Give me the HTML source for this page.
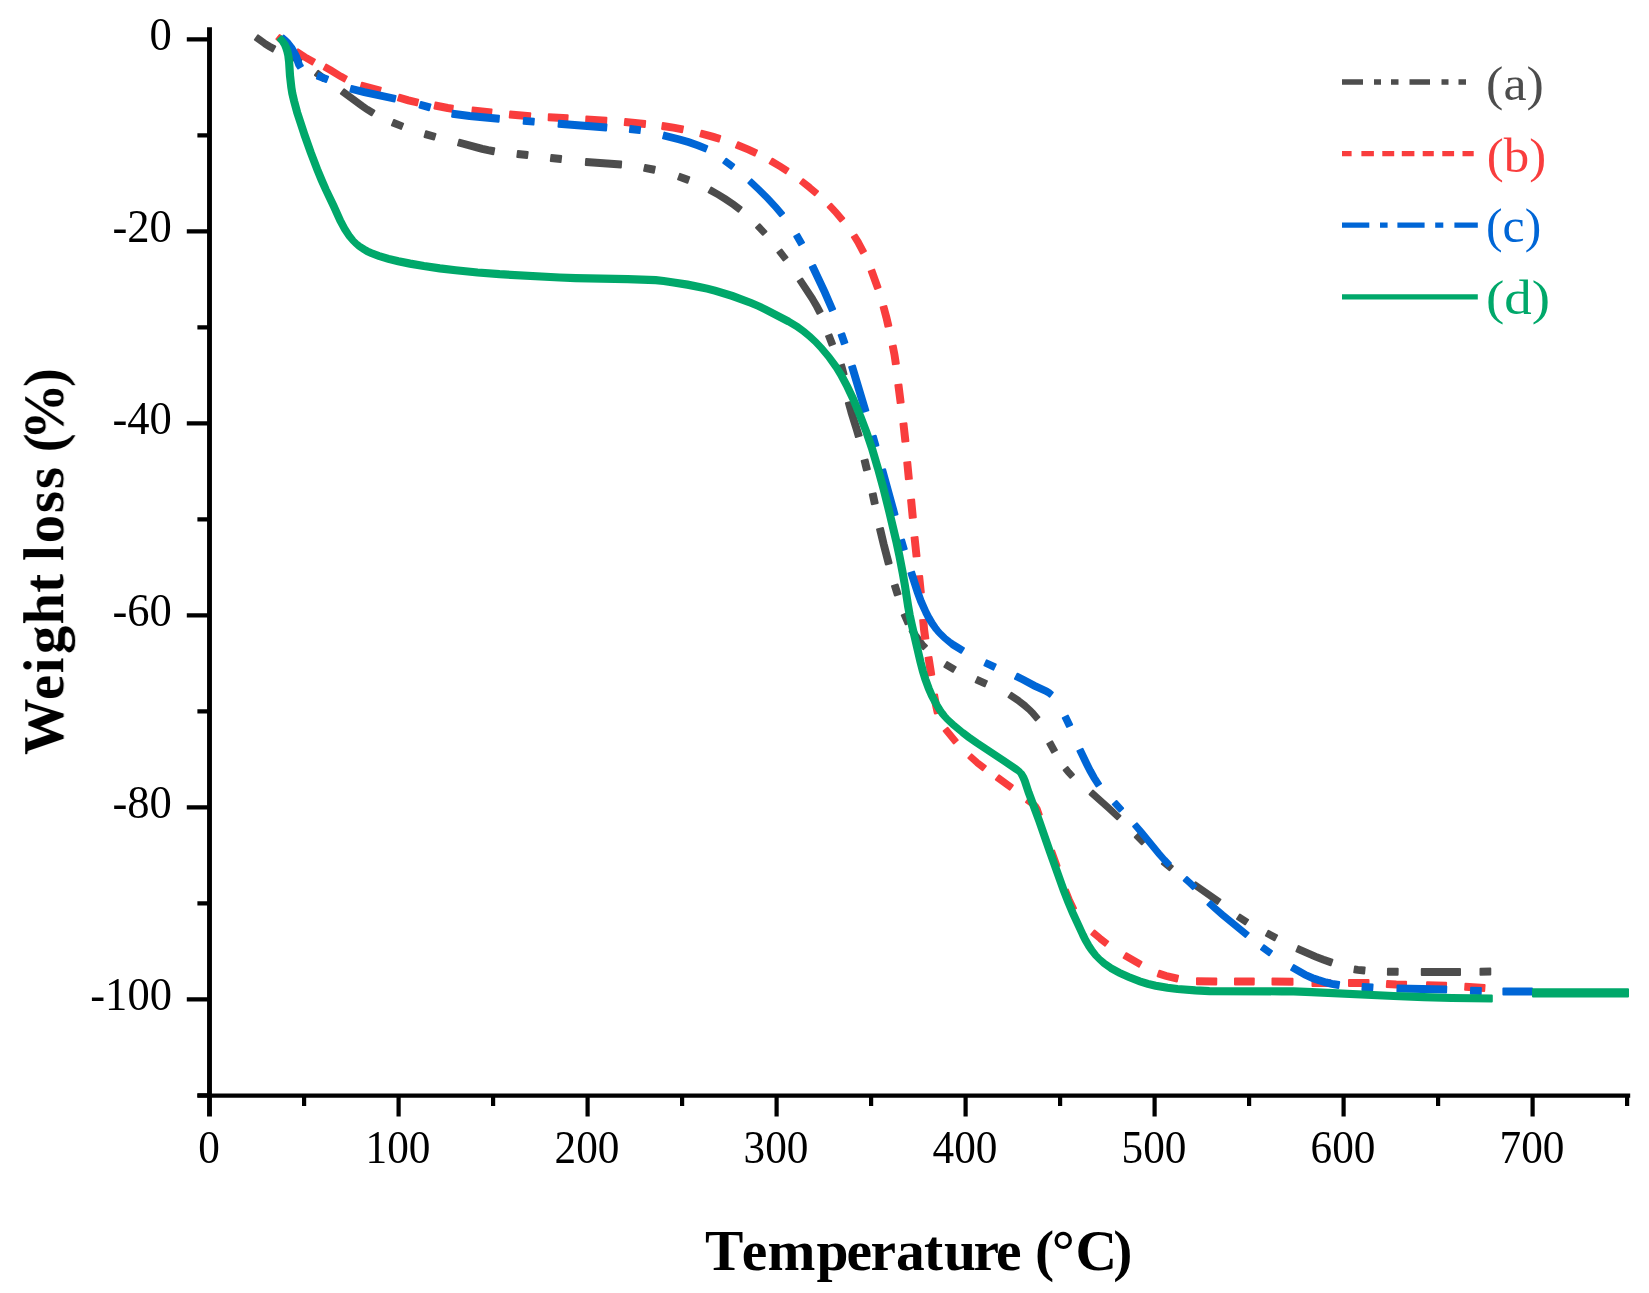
<!DOCTYPE html>
<html lang="en"><head><meta charset="utf-8"><title>TGA weight loss</title>
<style>
html,body{margin:0;padding:0;background:#fff}
body{width:1649px;height:1293px;overflow:hidden}
svg{display:block}
text{font-family:"Liberation Serif","DejaVu Serif",serif}
.tk text{font-size:46px;fill:#000}
.cv path{stroke-width:2;stroke-linejoin:round}
.lg path{fill:none;stroke-width:5.3}
.lg text{font-size:48.5px}
.ax{font-weight:bold;fill:#000}
</style></head><body>
<svg width="1649" height="1293" viewBox="0 0 1649 1293">
<rect width="1649" height="1293" fill="#fff"/>
<defs><filter id="soft" x="-2%" y="-2%" width="104%" height="104%"><feGaussianBlur stdDeviation="0.55"/></filter><filter id="soft2" x="-2%" y="-2%" width="104%" height="104%"><feGaussianBlur stdDeviation="0.4"/></filter></defs>
<g class="cv" filter="url(#soft)">
<path d="M258.0 35.4 266.3 41.4 271.3 44.4 275.2 46.5 272.5 51.4 268.5 49.1 263.3 45.8 254.9 39.8Z M293.3 53.9 298.6 56.5 302.1 58.7 299.3 63.3 296.0 61.4 290.8 59.0Z M318.1 70.9 326.0 76.7 322.9 81.0 315.0 75.2Z M344.1 89.4 363.8 103.9 368.6 107.2 374.4 110.7 371.6 115.3 365.7 111.7 360.6 108.2 340.9 93.6Z M394.0 120.0 403.1 123.6 401.0 128.9 391.9 125.3Z M426.1 131.3 435.5 134.0 433.9 139.6 424.5 137.0Z M459.5 139.7 483.0 146.0 488.7 147.3 494.3 148.3 493.2 154.2 487.5 153.1 481.5 151.7 458.0 145.3Z M518.0 151.0 527.7 152.1 527.0 158.0 517.3 156.9Z M551.5 155.0 561.2 156.1 560.5 162.1 550.8 160.9Z M586.2 159.0 621.2 161.5 620.8 167.5 585.8 165.0Z M645.3 164.9 654.9 166.8 653.7 172.7 644.1 170.8Z M680.1 173.9 689.3 177.2 687.4 182.7 678.1 179.4Z M711.4 187.6 719.6 192.3 726.6 196.6 735.0 202.4 741.6 207.4 738.4 211.6 731.9 206.7 723.6 201.1 716.9 197.0 708.6 192.4Z M759.7 224.3 766.4 231.4 762.8 234.8 756.1 227.7Z M781.6 249.5 787.5 257.3 783.4 260.5 777.4 252.7Z M802.2 278.5 815.0 297.9 819.2 304.9 822.5 311.2 817.5 313.8 814.3 307.6 810.4 300.8 797.8 281.5Z M831.4 334.4 835.0 343.5 829.7 345.6 826.1 336.5Z M843.9 364.4 845.1 368.5 846.5 374.1 840.8 375.5 839.5 370.0 838.3 366.2Z M851.6 401.7 854.2 411.5 859.6 428.7 861.6 435.4 855.9 437.1 854.0 430.4 848.6 413.1 845.9 403.3Z M867.5 459.5 869.8 469.1 864.0 470.5 861.7 460.9Z M875.6 493.3 877.7 502.9 871.9 504.2 869.8 494.6Z M882.9 528.1 886.6 543.8 891.6 563.0 885.9 564.5 880.9 545.3 877.1 529.4Z M897.6 584.5 900.5 593.8 894.9 595.5 892.0 586.2Z M907.0 613.1 910.9 622.1 905.7 624.3 901.8 615.3Z M914.3 628.6 917.4 633.5 920.8 638.4 924.4 643.1 926.9 645.8 923.1 649.2 920.5 646.3 916.6 641.6 912.9 636.5 909.7 631.4Z M947.2 662.0 955.7 667.1 952.9 671.8 944.4 666.8Z M978.0 677.1 986.9 681.2 984.6 686.3 975.6 682.3Z M1011.5 692.8 1020.2 698.7 1026.8 703.9 1031.4 708.2 1034.4 711.2 1039.4 717.1 1035.6 720.4 1030.7 714.6 1028.0 711.8 1023.5 707.9 1017.1 703.0 1008.5 697.2Z M1052.1 741.3 1056.9 749.9 1052.0 752.6 1047.3 744.0Z M1067.7 767.1 1070.6 770.8 1073.9 774.4 1070.3 777.8 1066.8 774.1 1063.7 770.3Z M1092.9 790.6 1110.7 806.6 1120.4 815.7 1117.1 819.3 1107.4 810.3 1089.6 794.4Z M1138.3 833.8 1145.2 840.7 1141.7 844.2 1134.8 837.3Z M1165.2 860.0 1172.8 866.3 1169.5 870.2 1161.9 864.0Z M1195.6 882.2 1220.4 899.5 1217.3 903.9 1192.6 886.5Z M1239.9 914.5 1248.1 919.8 1245.2 924.3 1237.0 919.0Z M1268.5 930.8 1277.1 935.3 1274.5 940.3 1265.9 935.7Z M1298.6 946.1 1316.9 954.2 1324.3 957.0 1332.4 959.8 1330.5 965.3 1322.3 962.4 1314.7 959.4 1296.4 951.4Z M1355.1 966.4 1358.2 966.9 1364.7 967.4 1364.1 973.4 1357.6 972.8 1354.2 972.3Z M1388.0 968.7 1397.7 968.8 1397.6 974.8 1387.9 974.7Z M1421.8 969.0 1460.0 969.0 1460.0 975.0 1421.8 975.0Z M1480.5 968.7 1490.3 968.5 1490.3 974.5 1480.5 974.7Z" fill="#4d4d4d" stroke="#4d4d4d"/>
<path d="M279.6 35.0 286.7 41.0 283.4 44.9 276.4 39.0Z M298.0 49.3 306.8 55.0 314.9 59.6 312.1 64.4 303.9 59.7 295.0 53.7Z M326.3 64.6 331.7 67.6 342.0 74.0 346.8 76.6 344.2 81.4 339.2 78.7 328.9 72.3 323.7 69.4Z M362.0 82.7 380.8 87.7 379.2 93.3 360.5 88.3Z M399.6 94.7 409.2 97.5 418.2 99.6 416.8 105.4 407.7 103.2 397.9 100.3Z M435.6 102.6 448.3 105.1 452.9 105.8 452.1 111.7 447.2 111.0 434.4 108.4Z M472.8 107.5 491.6 109.5 490.9 115.5 472.2 113.5Z M510.3 111.5 530.3 113.3 529.7 119.2 509.7 117.5Z M548.9 114.3 567.7 115.3 567.3 121.3 548.6 120.3Z M586.4 116.5 606.4 117.7 606.1 123.7 586.1 122.5Z M625.3 119.1 645.2 121.0 644.7 127.0 624.7 125.1Z M662.9 123.1 673.8 124.7 683.1 126.4 682.0 132.2 672.9 130.6 662.1 129.0Z M701.7 130.7 713.2 133.8 720.3 136.0 718.6 141.6 711.6 139.5 700.2 136.4Z M738.1 142.3 749.4 146.9 757.0 150.4 754.6 155.5 747.1 152.1 735.9 147.6Z M772.4 158.7 781.5 164.1 788.5 168.6 785.6 173.2 778.7 168.7 769.6 163.4Z M803.3 179.2 811.1 185.4 818.0 191.3 814.7 195.2 807.8 189.4 800.1 183.3Z M831.3 203.8 837.6 210.5 844.2 218.2 840.3 221.5 833.8 213.8 827.7 207.2Z M856.5 234.5 860.8 241.4 865.9 250.9 861.0 253.5 856.0 244.1 851.9 237.3Z M874.2 269.6 880.5 287.0 875.1 289.0 868.8 271.6Z M886.3 305.9 889.3 317.0 891.3 325.5 885.5 326.8 883.6 318.4 880.7 307.4Z M895.7 345.6 897.4 354.4 898.8 363.4 892.9 364.3 891.6 355.4 889.9 346.8Z M901.4 384.6 903.6 402.2 897.7 403.0 895.4 385.3Z M906.4 423.3 908.4 441.0 902.4 441.7 900.5 424.0Z M910.2 462.1 911.8 478.6 905.9 479.2 904.3 462.7Z M914.1 499.6 915.8 517.3 909.8 517.9 908.1 500.2Z M917.5 537.1 919.5 556.0 913.6 556.6 911.6 537.7Z M922.1 575.9 923.8 592.3 917.9 593.0 916.1 576.5Z M926.2 619.7 927.1 629.5 928.3 638.3 922.3 639.1 921.1 630.2 920.2 620.3Z M931.5 657.1 934.2 674.5 928.3 675.5 925.6 658.0Z M937.0 694.4 938.9 704.6 940.7 712.3 934.9 713.6 933.1 705.7 931.2 695.5Z M947.7 727.8 957.7 740.1 953.7 743.4 943.7 731.1Z M971.7 754.4 978.8 760.7 985.8 766.1 982.6 770.2 975.5 764.6 968.3 758.1Z M999.1 775.4 1012.8 785.4 1009.7 789.7 995.9 779.6Z M1029.0 797.8 1033.7 801.1 1035.4 802.6 1037.2 804.4 1039.5 808.0 1041.7 814.4 1036.2 816.2 1034.2 810.2 1032.8 807.4 1032.0 806.4 1030.6 805.4 1026.0 802.2Z M1054.1 850.6 1059.5 865.7 1054.0 867.6 1048.6 852.6Z M1067.9 889.6 1071.6 898.9 1076.0 908.1 1070.9 910.6 1066.3 901.2 1062.6 891.7Z M1094.6 930.5 1101.8 936.6 1108.2 941.5 1105.0 945.6 1098.6 940.6 1091.3 934.5Z M1126.3 953.2 1141.5 961.9 1138.8 966.7 1123.6 958.0Z M1159.5 970.7 1167.1 973.2 1178.1 975.8 1176.8 981.6 1165.6 978.9 1157.6 976.2Z M1197.0 978.2 1216.3 978.4 1216.2 984.4 1197.0 984.2Z M1235.0 978.5 1253.8 978.5 1253.7 984.5 1235.0 984.5Z M1272.5 978.6 1292.5 978.8 1292.5 984.8 1272.5 984.6Z M1312.5 980.0 1330.0 980.0 1330.0 986.0 1312.5 986.0Z M1349.0 980.0 1368.5 980.0 1368.5 986.0 1349.0 986.0Z M1387.2 981.0 1396.4 981.5 1406.1 981.8 1405.9 987.8 1396.2 987.5 1386.8 986.9Z M1427.1 982.3 1446.1 982.8 1445.9 988.8 1426.9 988.3Z M1465.5 983.8 1484.6 985.0 1484.2 991.0 1465.1 989.7Z" fill="#f93e3e" stroke="#f93e3e"/>
<path d="M283.6 35.5 286.8 38.3 289.9 41.3 293.8 46.3 297.9 53.5 298.9 55.6 301.6 63.4 302.8 65.6 298.1 68.4 296.3 65.6 293.5 57.6 292.9 56.1 289.2 49.2 286.0 44.6 283.4 42.0 280.4 39.5Z M318.9 73.2 328.1 76.6 326.1 82.0 316.9 78.6Z M351.7 85.9 364.9 89.3 395.6 95.9 394.4 101.6 363.6 95.0 350.3 91.6Z M421.0 102.0 430.5 104.5 428.9 110.2 419.5 107.6Z M452.9 110.8 470.0 113.1 499.0 115.8 498.5 121.7 469.3 119.0 452.1 116.7Z M524.1 117.9 533.9 118.7 533.4 124.6 523.6 123.8Z M559.0 120.8 606.5 124.5 606.0 130.5 558.5 126.7Z M630.5 126.1 640.2 127.2 639.5 133.1 629.8 132.0Z M664.5 132.6 679.4 136.5 689.2 139.3 698.9 142.6 707.3 146.1 705.2 151.4 696.9 148.0 687.5 144.9 677.9 142.1 663.0 138.4Z M726.4 158.7 734.2 164.6 731.1 168.8 723.3 162.9Z M751.7 179.4 760.7 187.9 769.3 196.5 777.6 205.4 784.0 212.9 780.0 216.1 773.9 208.8 765.8 200.0 757.3 191.5 748.3 183.1Z M799.1 233.9 804.0 242.4 799.2 245.2 794.3 236.7Z M815.1 265.0 827.2 290.6 835.1 308.9 829.9 311.1 822.0 293.0 809.9 267.5Z M844.1 333.2 847.3 342.4 841.8 344.3 838.7 335.1Z M854.8 365.4 868.3 410.4 862.7 412.1 849.2 367.1Z M875.7 435.7 878.4 445.2 872.8 446.8 870.1 437.3Z M885.1 469.2 897.5 514.2 891.9 515.8 879.5 470.8Z M904.0 539.5 906.7 548.9 901.1 550.5 898.4 541.1Z M914.0 571.6 920.4 591.3 923.7 600.5 928.5 611.3 931.3 616.6 934.2 621.6 937.4 626.4 939.7 629.4 942.3 632.3 946.6 636.4 951.1 640.1 954.2 642.2 963.9 648.2 961.1 652.8 951.2 646.8 947.9 644.1 943.2 640.1 938.8 635.7 935.9 632.7 933.2 629.5 929.7 624.6 926.4 619.3 923.5 613.7 918.4 602.7 914.9 593.1 908.5 573.4Z M986.8 660.3 995.7 664.5 993.3 669.6 984.4 665.4Z M1017.5 673.7 1023.9 676.9 1036.2 683.5 1047.4 688.7 1051.0 690.9 1052.8 692.5 1049.6 696.6 1048.0 695.4 1044.9 693.7 1033.7 688.5 1021.3 681.9 1015.0 678.8Z M1067.9 715.6 1072.1 724.5 1067.0 726.9 1062.8 718.1Z M1082.5 748.8 1089.1 762.5 1092.7 769.6 1096.5 776.5 1101.0 783.5 1096.5 786.5 1091.8 779.3 1087.8 772.2 1084.1 765.0 1077.5 751.2Z M1116.5 801.0 1123.1 808.2 1119.5 811.6 1112.8 804.4Z M1137.0 823.3 1143.3 830.6 1161.1 852.4 1166.3 858.3 1170.9 863.1 1167.3 866.5 1162.6 861.7 1157.2 855.7 1139.4 833.9 1133.2 826.6Z M1187.0 877.0 1191.4 880.9 1196.1 885.7 1192.7 889.1 1188.0 884.5 1183.7 880.7Z M1210.8 901.1 1216.7 906.5 1224.3 913.0 1248.7 932.9 1245.4 936.9 1221.0 916.9 1213.4 910.3 1207.4 904.7Z M1264.1 945.2 1272.0 951.0 1268.9 955.3 1261.0 949.5Z M1293.9 965.1 1306.7 972.3 1313.7 975.5 1319.1 977.3 1326.7 979.6 1332.5 980.9 1339.2 982.1 1338.3 987.9 1331.3 986.7 1325.2 985.2 1317.4 982.9 1311.6 980.8 1304.1 977.3 1291.1 969.9Z M1362.8 984.0 1372.6 984.6 1372.2 990.5 1362.4 990.0Z M1397.6 985.5 1446.3 986.5 1446.1 992.5 1397.4 991.5Z M1471.1 987.8 1480.9 988.1 1480.7 994.1 1470.9 993.8Z M1503.4 988.5 1532.0 988.5 1532.0 994.5 1503.4 994.5Z" fill="#0066d6" stroke="#0066d6"/>
<path d="M281.3 36.2 284.4 39.3 287.1 42.8 289.0 46.7 290.4 50.9 291.3 55.1 292.2 61.3 293.1 75.3 294.4 87.1 295.3 92.8 297.1 100.5 300.2 112.0 307.0 132.8 313.6 151.7 320.0 168.4 324.6 179.5 328.6 188.6 336.3 204.8 342.9 219.4 347.5 228.1 351.7 234.7 355.2 239.1 357.9 241.7 360.9 244.0 365.8 247.2 369.0 248.9 372.5 250.4 379.9 253.2 389.3 255.9 399.0 258.3 410.6 260.6 424.4 263.0 440.2 265.3 456.0 267.2 477.9 269.4 499.8 271.1 559.7 274.4 575.7 275.0 627.8 276.0 655.9 277.1 664.0 277.9 674.1 279.4 688.0 281.6 699.9 283.9 707.8 285.7 715.7 287.8 733.1 293.0 752.0 300.1 759.5 303.3 766.8 306.8 790.0 319.0 798.7 324.4 805.3 329.3 811.5 334.6 817.5 340.2 823.2 346.1 831.0 355.4 838.3 365.2 843.8 373.8 849.6 384.6 855.7 397.4 863.4 415.9 869.2 431.0 875.1 448.2 880.8 467.5 886.6 488.8 892.0 510.2 899.5 541.4 902.4 555.2 905.8 573.0 907.9 584.9 911.0 604.7 912.7 614.4 914.8 624.1 923.4 661.2 925.9 670.8 928.2 678.3 931.6 687.6 934.6 694.8 939.1 703.5 942.2 708.5 944.4 711.7 946.6 714.7 949.1 717.5 954.9 722.8 964.2 730.4 970.5 735.1 978.7 740.8 1005.5 758.5 1017.3 766.6 1020.6 769.2 1022.2 770.9 1023.8 772.5 1025.9 776.0 1027.6 779.9 1031.5 791.7 1042.0 819.9 1052.5 850.2 1066.7 889.8 1071.0 900.9 1075.5 911.9 1085.6 933.8 1088.2 939.1 1091.0 944.1 1094.1 948.9 1097.7 953.6 1101.7 957.9 1106.0 961.4 1112.3 965.6 1121.1 970.3 1130.1 974.4 1141.2 978.6 1148.7 980.9 1156.3 982.7 1168.0 984.8 1177.8 985.9 1195.6 987.3 1209.5 988.0 1281.6 988.2 1293.7 988.3 1311.8 989.0 1393.8 992.9 1423.8 994.1 1451.8 994.9 1491.8 995.4 1491.8 1001.6 1451.7 1001.1 1423.6 1000.3 1393.5 999.1 1311.5 995.2 1293.5 994.5 1281.6 994.4 1209.4 994.2 1195.2 993.5 1177.2 992.1 1167.0 990.8 1155.1 988.7 1147.1 986.8 1139.2 984.2 1127.9 979.8 1118.5 975.5 1109.4 970.5 1102.7 965.8 1098.2 961.6 1093.7 957.0 1089.7 952.1 1086.2 947.1 1083.1 941.8 1080.3 936.2 1070.2 914.3 1065.5 903.1 1061.1 891.8 1046.9 852.2 1036.4 821.9 1025.9 793.7 1022.0 781.9 1020.6 778.5 1019.1 775.5 1018.4 774.3 1017.3 773.3 1014.1 771.1 1002.4 763.1 975.6 745.4 967.3 739.6 960.9 734.6 951.5 726.8 945.5 721.1 942.7 718.1 940.0 715.0 937.6 711.6 934.2 706.3 929.4 697.3 926.1 689.8 922.5 680.2 920.1 672.4 917.5 662.6 908.9 625.5 906.7 615.6 904.9 605.7 901.9 585.9 899.8 574.1 896.4 556.4 893.5 542.8 886.1 511.6 880.8 490.3 875.0 469.1 869.3 450.0 863.6 433.0 857.9 418.1 850.3 399.7 844.4 387.2 838.8 376.7 833.7 368.3 826.8 358.7 819.3 349.5 813.9 343.8 808.1 338.5 802.0 333.5 795.6 329.0 787.2 324.0 764.2 312.0 757.1 308.6 749.8 305.6 731.1 298.7 714.0 293.6 706.4 291.6 698.6 289.9 686.9 287.7 673.1 285.4 663.3 284.1 655.5 283.3 627.6 282.2 575.5 281.2 559.4 280.6 499.4 277.3 477.3 275.5 455.3 273.3 439.4 271.4 423.4 269.1 409.5 266.7 397.6 264.2 387.7 261.8 378.0 258.9 370.3 255.9 366.4 254.1 362.8 252.0 357.7 248.4 354.4 245.5 351.4 242.6 347.3 237.9 342.6 231.0 337.7 222.0 331.0 207.3 323.3 191.0 319.1 181.8 314.5 170.6 308.0 153.7 301.3 134.8 294.4 113.7 291.2 102.0 289.3 94.1 288.3 87.9 286.9 75.8 286.0 61.8 285.3 56.1 284.5 52.5 283.4 48.9 282.1 45.6 280.3 42.7 277.7 39.8Z" fill="#00a86b" stroke="#00a86b"/>
<path d="M1533 989.2H1628V996.4H1533Z" fill="#00a86b" stroke="#00a86b"/>
</g>
<g><path d="M209.5 27.3 V1116.5" fill="none" stroke="#000" stroke-width="4.9"/><path d="M197.4 1095.7 H1630.2" fill="none" stroke="#000" stroke-width="4.2"/><path d="M209.6 39.3 H186.8 M209.6 135.3 H197.4 M209.6 231.3 H186.8 M209.6 327.3 H197.4 M209.6 423.3 H186.8 M209.6 519.3 H197.4 M209.6 615.3 H186.8 M209.6 711.3 H197.4 M209.6 807.3 H186.8 M209.6 903.3 H197.4 M209.6 999.3 H186.8 M209.6 1095.3 H197.4 M304.1 1095.7 V1105.9 M398.6 1095.7 V1116.5 M493.1 1095.7 V1105.9 M587.6 1095.7 V1116.5 M682.1 1095.7 V1105.9 M776.6 1095.7 V1116.5 M871.1 1095.7 V1105.9 M965.6 1095.7 V1116.5 M1060.1 1095.7 V1105.9 M1154.6 1095.7 V1116.5 M1249.1 1095.7 V1105.9 M1343.6 1095.7 V1116.5 M1438.1 1095.7 V1105.9 M1532.6 1095.7 V1116.5 M1627.1 1095.7 V1105.9" fill="none" stroke="#000" stroke-width="4.2"/></g>
<g class="tk" filter="url(#soft2)">
<text x="171.9" y="49.5" text-anchor="end" textLength="22.3" lengthAdjust="spacingAndGlyphs">0</text>
<text x="171.9" y="241.5" text-anchor="end" textLength="59.4" lengthAdjust="spacingAndGlyphs">-20</text>
<text x="171.9" y="433.5" text-anchor="end" textLength="59.4" lengthAdjust="spacingAndGlyphs">-40</text>
<text x="171.9" y="625.5" text-anchor="end" textLength="59.4" lengthAdjust="spacingAndGlyphs">-60</text>
<text x="171.9" y="817.5" text-anchor="end" textLength="59.4" lengthAdjust="spacingAndGlyphs">-80</text>
<text x="171.9" y="1009.5" text-anchor="end" textLength="81.6" lengthAdjust="spacingAndGlyphs">-100</text>
<text x="209.0" y="1162.7" text-anchor="middle" textLength="21.6" lengthAdjust="spacingAndGlyphs">0</text>
<text x="398.0" y="1162.7" text-anchor="middle" textLength="64.9" lengthAdjust="spacingAndGlyphs">100</text>
<text x="587.0" y="1162.7" text-anchor="middle" textLength="64.9" lengthAdjust="spacingAndGlyphs">200</text>
<text x="776.0" y="1162.7" text-anchor="middle" textLength="64.9" lengthAdjust="spacingAndGlyphs">300</text>
<text x="965.0" y="1162.7" text-anchor="middle" textLength="64.9" lengthAdjust="spacingAndGlyphs">400</text>
<text x="1154.0" y="1162.7" text-anchor="middle" textLength="64.9" lengthAdjust="spacingAndGlyphs">500</text>
<text x="1343.0" y="1162.7" text-anchor="middle" textLength="64.9" lengthAdjust="spacingAndGlyphs">600</text>
<text x="1532.0" y="1162.7" text-anchor="middle" textLength="64.9" lengthAdjust="spacingAndGlyphs">700</text>
</g>
<g class="lg" filter="url(#soft2)">

<path d="M1342 82H1363 M1374 82h7 M1391 82h7.5 M1409.5 82H1430 M1441.5 82h7 M1458.5 82h7.5" stroke="#4d4d4d"/>
<path d="M1342 153.6H1351.6 M1361.4 153.6H1373.9 M1382.3 153.6H1394.2 M1401.8 153.6H1414.4 M1422.7 153.6H1433.8 M1442.3 153.6H1454.1 M1462.5 153.6H1473.7" stroke="#f93e3e"/>
<path d="M1342 225.2H1369.3 M1380 225.2H1387.6 M1397.4 225.2H1424.6 M1435.2 225.2H1443.3 M1454.4 225.2H1477.8" stroke="#0066d6"/>
<path d="M1342 296.9H1477.8" stroke="#00a86b"/>
<text x="1486.1" y="99.7" fill="#4d4d4d" textLength="57.8" lengthAdjust="spacingAndGlyphs">(a)</text>
<text x="1486.8" y="171.5" fill="#f93e3e" textLength="59.3" lengthAdjust="spacingAndGlyphs">(b)</text>
<text x="1486" y="242.1" fill="#0066d6" textLength="55.2" lengthAdjust="spacingAndGlyphs">(c)</text>
<text x="1486" y="314" fill="#00a86b" textLength="64.1" lengthAdjust="spacingAndGlyphs">(d)</text>

</g>
<g filter="url(#soft2)">
<text class="ax" font-size="57.5" y="1269.6" x="705.0 741.7 767.4 816.4 846.5 870.5 896.0 924.1 943.9 973.6 996.0 1015.5 1035.0 1051.8 1075.4 1113.3">Temperature (°C)</text>
<text class="ax" font-size="56.5" transform="translate(63.2 0) rotate(-90)" x="-755.0 -700.1 -673.3 -654.1 -624.4 -592.8 -576.9 -561.0 -543.2 -513.1 -489.1 -470.7 -452.2 -440.0 -387.1">Weight loss (%)</text>
</g>
</svg>
</body></html>
